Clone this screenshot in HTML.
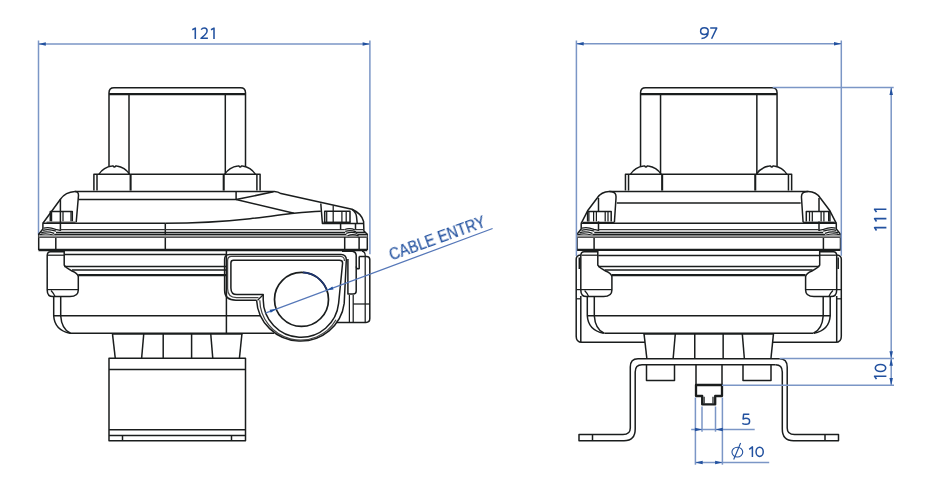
<!DOCTYPE html>
<html><head><meta charset="utf-8"><style>
html,body{margin:0;padding:0;background:#fff;}
svg{display:block;} text{will-change:transform;}
</style></head><body>
<svg width="937" height="500" viewBox="0 0 937 500" stroke-linecap="butt" stroke-linejoin="round">
<rect x="0" y="0" width="937" height="500" fill="#fff"/>
<line x1="38.5" y1="40.5" x2="38.5" y2="234.4" stroke="#7b96c6" stroke-width="1.5"/>
<line x1="369.9" y1="40.5" x2="369.9" y2="254.3" stroke="#7b96c6" stroke-width="1.5"/>
<line x1="38.5" y1="44" x2="369.9" y2="44" stroke="#7b96c6" stroke-width="1.5"/>
<path d="M38.5,44 L45.8,42.25 L45.8,45.75 Z" fill="#22519f" stroke="none"/>
<path d="M369.9,44 L362.6,45.75 L362.6,42.25 Z" fill="#22519f" stroke="none"/>
<path d="M192.3,29.7 L195.3,28.1 V39" stroke="#22519f" stroke-width="1.55" fill="none" stroke-linecap="butt" stroke-linejoin="round"/>
<path d="M201.2,29.6 Q202.3,28.1 204.2,28.1 Q207.1,28.1 207.1,30.9 Q207.1,32.8 204.5,35.3 L201,38.3 H207.9" stroke="#22519f" stroke-width="1.5" fill="none" stroke-linecap="butt" stroke-linejoin="round"/>
<path d="M211,29.7 L214,28.1 V39" stroke="#22519f" stroke-width="1.55" fill="none" stroke-linecap="butt" stroke-linejoin="round"/>
<path d="M109,166.6 V92.7 Q109,87.7 114,87.7 H240.5 Q245.5,87.7 245.5,92.7 V166.6" stroke="#1a1d1d" stroke-width="1.5" fill="none"/>
<line x1="109" y1="94.1" x2="245.5" y2="94.1" stroke="#1a1d1d" stroke-width="2.3"/>
<line x1="129" y1="94" x2="129" y2="174.2" stroke="#1a1d1d" stroke-width="1.5"/>
<line x1="225.3" y1="94" x2="225.3" y2="174.2" stroke="#1a1d1d" stroke-width="1.5"/>
<path d="M99,174.2 A18.4,18.4 0 0 1 112,166.1 L113.1,165.9 Q114.4,168.2 115.7,165.9 L116.8,166.1 A18.4,18.4 0 0 1 129.5,174.2" stroke="#1a1d1d" stroke-width="1.5" fill="none"/>
<path d="M224.8,174.2 A18.4,18.4 0 0 1 237.8,166.1 L238.9,165.9 Q240.2,168.2 241.5,165.9 L242.6,166.1 A18.4,18.4 0 0 1 255.3,174.2" stroke="#1a1d1d" stroke-width="1.5" fill="none"/>
<path d="M93.9,190.6 V174.2 H260.1 V190.6" stroke="#1a1d1d" stroke-width="1.5" fill="none"/>
<line x1="97" y1="174.2" x2="97" y2="190.6" stroke="#1a1d1d" stroke-width="1.5"/>
<line x1="256.9" y1="174.2" x2="256.9" y2="190.6" stroke="#1a1d1d" stroke-width="1.5"/>
<line x1="130.6" y1="174.2" x2="130.6" y2="190.6" stroke="#1a1d1d" stroke-width="2.07"/>
<line x1="223.7" y1="174.2" x2="223.7" y2="190.6" stroke="#1a1d1d" stroke-width="2.07"/>
<line x1="112.4" y1="333.2" x2="115.3" y2="358.5" stroke="#1a1d1d" stroke-width="1.5"/>
<line x1="143.8" y1="333.2" x2="141.6" y2="358.5" stroke="#1a1d1d" stroke-width="1.5"/>
<line x1="163.2" y1="333.2" x2="163.2" y2="358.5" stroke="#1a1d1d" stroke-width="1.5"/>
<line x1="191.6" y1="333.2" x2="191.6" y2="358.5" stroke="#1a1d1d" stroke-width="1.5"/>
<line x1="210.7" y1="333.2" x2="212.8" y2="358.5" stroke="#1a1d1d" stroke-width="1.5"/>
<line x1="242" y1="333.2" x2="239.4" y2="358.5" stroke="#1a1d1d" stroke-width="1.5"/>
<path d="M42.9,223.3 L60.4,199.2 Q65.5,192.1 75,191.6 Q78.6,191.5 78.5,195.4 L76.2,222.3" stroke="#1a1d1d" stroke-width="1.49" fill="none"/>
<path d="M50.3,221.3 V211.5 H72.3 V221.3" stroke="#1a1d1d" stroke-width="1.5" fill="none"/>
<line x1="46.5" y1="222.2" x2="75.5" y2="222.2" stroke="#444" stroke-width="1.25"/>
<line x1="51.6" y1="211.5" x2="51.6" y2="221.3" stroke="#1a1d1d" stroke-width="1.25"/>
<line x1="63" y1="211.5" x2="63" y2="221.3" stroke="#1a1d1d" stroke-width="1.25"/>
<line x1="71" y1="211.5" x2="71" y2="221.3" stroke="#1a1d1d" stroke-width="1.25"/>
<line x1="60.4" y1="199.2" x2="60.4" y2="231" stroke="#1a1d1d" stroke-width="1.5"/>
<path d="M42.9,223.3 V229 L38.7,234.3 V250.1" stroke="#1a1d1d" stroke-width="1.5" fill="none"/>
<path d="M43.6,228.2 Q48.4,226.4 55.6,229.3 L60.2,230.3" stroke="#1a1d1d" stroke-width="1.25" fill="none"/>
<path d="M43.1,230.3 Q48.4,228.4 56,231.2" stroke="#1a1d1d" stroke-width="1.25" fill="none"/>
<path d="M41.2,232.9 Q46.5,230.8 54.2,233.4" stroke="#1a1d1d" stroke-width="1.25" fill="none"/>
<path d="M39.3,234.8 Q46,232.6 54.2,235.3" stroke="#1a1d1d" stroke-width="1.25" fill="none"/>
<line x1="55.8" y1="235.3" x2="55.8" y2="250.1" stroke="#1a1d1d" stroke-width="1.5"/>
<path d="M64.2,250.1 V265.2 Q66,268 72,271 Q77.5,273.3 78.3,276.5 V290.1 Q78.3,296.6 70,296.6 H53 Q47.2,296.6 47.2,290 V256 Q47.2,251.8 50.5,251.8 H64.2" stroke="#1a1d1d" stroke-width="1.5" fill="none"/>
<line x1="48" y1="255.2" x2="64.2" y2="255.2" stroke="#1a1d1d" stroke-width="1.25"/>
<line x1="47.2" y1="289.6" x2="78.3" y2="289.6" stroke="#1a1d1d" stroke-width="1.25"/>
<path d="M51,290.5 Q53.5,293 55,296.6" stroke="#1a1d1d" stroke-width="1.25" fill="none"/>
<path d="M53.7,296.6 V315.7 Q54.5,330 70,333.3" stroke="#1a1d1d" stroke-width="1.5" fill="none"/>
<path d="M60.7,296.6 V315.7 Q61.5,329 70.5,333.3" stroke="#1a1d1d" stroke-width="1.5" fill="none"/>
<path d="M75,191.6 H274.4 Q278,191.8 281,193.6 L352,209.3 Q361.5,213.5 363.6,221.5 L363.9,231 L367.3,234.3 V250" stroke="#1a1d1d" stroke-width="1.5" fill="none"/>
<line x1="78.5" y1="199.6" x2="236.1" y2="199.6" stroke="#1a1d1d" stroke-width="1.5"/>
<line x1="236.1" y1="191.6" x2="236.1" y2="199.6" stroke="#1a1d1d" stroke-width="1.5"/>
<line x1="236.1" y1="199.6" x2="273.5" y2="191.8" stroke="#1a1d1d" stroke-width="1.5"/>
<line x1="236.1" y1="199.6" x2="294" y2="213.2" stroke="#1a1d1d" stroke-width="1.5"/>
<path d="M165.3,223.3 C200,223.3 230,221 250,218.8 S285,214 294,213.2 Q310,211.6 320.8,211.3" stroke="#1a1d1d" stroke-width="1.5" fill="none"/>
<line x1="42.6" y1="223.3" x2="165.3" y2="223.3" stroke="#1a1d1d" stroke-width="1.5"/>
<path d="M320.8,203.5 L322.4,223.4 H363.6" stroke="#1a1d1d" stroke-width="1.49" fill="none"/>
<path d="M352,209.3 Q356.3,212.5 356.5,216.5 L357.2,223.4" stroke="#1a1d1d" stroke-width="1.5" fill="none"/>
<path d="M324.7,222.3 V211.3 H350 V222.3" stroke="#1a1d1d" stroke-width="1.5" fill="none"/>
<line x1="323.4" y1="222.3" x2="350.7" y2="222.3" stroke="#1a1d1d" stroke-width="1.5"/>
<line x1="326.7" y1="211.3" x2="326.7" y2="222.3" stroke="#1a1d1d" stroke-width="1.25"/>
<line x1="341.9" y1="211.3" x2="341.9" y2="222.3" stroke="#1a1d1d" stroke-width="1.25"/>
<line x1="346.2" y1="211.3" x2="346.2" y2="222.3" stroke="#1a1d1d" stroke-width="1.25"/>
<line x1="333.2" y1="205.6" x2="333.2" y2="222.3" stroke="#1a1d1d" stroke-width="1.25"/>
<line x1="165.3" y1="223.3" x2="165.3" y2="250" stroke="#1a1d1d" stroke-width="1.5"/>
<line x1="60.2" y1="229.6" x2="344.7" y2="229.6" stroke="#333" stroke-width="1.25"/>
<line x1="355.3" y1="229.6" x2="363.9" y2="229.6" stroke="#333" stroke-width="1.25"/>
<line x1="56" y1="232.4" x2="345.2" y2="232.4" stroke="#1a1d1d" stroke-width="1.5"/>
<line x1="356" y1="232.4" x2="365.2" y2="232.4" stroke="#1a1d1d" stroke-width="1.5"/>
<line x1="54.2" y1="234.5" x2="346.4" y2="234.5" stroke="#1a1d1d" stroke-width="1.5"/>
<line x1="357.3" y1="234.5" x2="367.3" y2="234.5" stroke="#1a1d1d" stroke-width="1.5"/>
<rect x="38.7" y="235.1" width="328.6" height="2.6" fill="#a0a0a0"/>
<line x1="38.7" y1="237.3" x2="367.3" y2="237.3" stroke="#555" stroke-width="1.25"/>
<line x1="38.5" y1="250" x2="367.3" y2="250" stroke="#1a1d1d" stroke-width="2.3"/>
<path d="M340.6,223.4 V229.6 M355.5,223.4 V229.6" stroke="#1a1d1d" stroke-width="1.5" fill="none"/>
<path d="M344.7,237 V250 M359.1,237 V250" stroke="#1a1d1d" stroke-width="1.5" fill="none"/>
<path d="M344.7,229.5 Q350,227.7 355.3,230" stroke="#1a1d1d" stroke-width="1.25" fill="none"/>
<path d="M345.2,231.4 Q350.5,229.6 356,231.8" stroke="#1a1d1d" stroke-width="1.25" fill="none"/>
<path d="M346.2,233.3 Q351.2,231.3 357.3,233.4" stroke="#1a1d1d" stroke-width="1.25" fill="none"/>
<path d="M347.6,235.8 Q352.4,233.6 358.6,235.8" stroke="#1a1d1d" stroke-width="1.25" fill="none"/>
<line x1="64.2" y1="254.6" x2="226.2" y2="254.6" stroke="#1a1d1d" stroke-width="1.5"/>
<line x1="64.2" y1="266.4" x2="226.2" y2="266.4" stroke="#1a1d1d" stroke-width="1.5"/>
<line x1="72" y1="269.9" x2="226.2" y2="269.9" stroke="#1a1d1d" stroke-width="1.5"/>
<line x1="78.2" y1="275.2" x2="226.2" y2="275.2" stroke="#1a1d1d" stroke-width="2.18"/>
<line x1="53.7" y1="315.7" x2="260" y2="315.7" stroke="#1a1d1d" stroke-width="1.5"/>
<line x1="70" y1="333.3" x2="274" y2="333.3" stroke="#1a1d1d" stroke-width="1.5"/>
<line x1="112.2" y1="333.8" x2="242.3" y2="333.8" stroke="#1a1d1d" stroke-width="1.84"/>
<line x1="226.4" y1="250" x2="226.4" y2="333.3" stroke="#1a1d1d" stroke-width="1.5"/>
<path d="M256.6,300.2 H236 Q224.6,300.2 224.6,290 V259.5 Q224.6,254.6 229.5,254.6 H341 Q346.5,254.6 346.3,260 L344.2,303.4 A44,43 0 0 1 256.6,300.2" stroke="#1a1d1d" stroke-width="1.5" fill="none"/>
<path d="M263.2,299.5 V294.6 H237 Q230.9,294.6 230.9,288 V263 Q230.9,260.3 233.5,260.3 H339.5 Q342.6,260.3 342.6,263 L338.6,303.4 A37.8,37.8 0 0 1 263.2,299.5" stroke="#1a1d1d" stroke-width="1.5" fill="none"/>
<line x1="257.6" y1="300.2" x2="263.2" y2="294.8" stroke="#1a1d1d" stroke-width="1.25"/>
<path d="M258.5,297.6 H236.5 Q227.6,297.6 227.6,288.5 V260.5 Q227.6,256.3 231.5,256.3 H340.5 Q344.6,256.4 344.4,261" stroke="#444" stroke-width="1.25" fill="none"/>
<path d="M259.8,300.3 A40.8,40.5 0 0 0 336,319.8" stroke="#444" stroke-width="1.25" fill="none"/>
<circle cx="301.5" cy="299.4" r="27" stroke="#1a1d1d" stroke-width="1.7" fill="none"/>
<path d="M303,272.45 A27,27 0 0 1 326.5,289.2" stroke="#1d3570" stroke-width="1.7" fill="none"/>
<path d="M347.9,259 V294 H353.2 Q356.2,294 356.2,291 V255 Q355.8,251.6 352.4,251.2 H342" stroke="#1a1d1d" stroke-width="1.5" fill="none"/>
<path d="M356.2,266.5 Q356.5,269.6 359.2,268.6 V256.4" stroke="#1a1d1d" stroke-width="1.5" fill="none"/>
<path d="M362,251.2 Q365.2,251.8 365.2,255.5 V322.4" stroke="#1a1d1d" stroke-width="1.25" fill="none"/>
<path d="M359.2,256.4 H366.5 Q369.8,256.4 369.8,259.5 V318.5 Q369.8,322.4 366,322.4 H336.5" stroke="#1a1d1d" stroke-width="1.5" fill="none"/>
<line x1="353.2" y1="304" x2="369.8" y2="304" stroke="#1a1d1d" stroke-width="1.25"/>
<line x1="353.2" y1="295" x2="353.2" y2="322.4" stroke="#1a1d1d" stroke-width="1.25"/>
<line x1="349.4" y1="295" x2="349.4" y2="322.4" stroke="#1a1d1d" stroke-width="1.25"/>
<path d="M109,358.3 H245.5 V440.7 H109 Z" stroke="#1a1d1d" stroke-width="1.5" fill="none"/>
<line x1="109" y1="369.5" x2="245.5" y2="369.5" stroke="#1a1d1d" stroke-width="1.5"/>
<line x1="109" y1="429.8" x2="245.5" y2="429.8" stroke="#1a1d1d" stroke-width="1.5"/>
<line x1="109" y1="435.6" x2="245.5" y2="435.6" stroke="#1a1d1d" stroke-width="1.5"/>
<line x1="122.5" y1="435.6" x2="122.5" y2="440.7" stroke="#1a1d1d" stroke-width="1.5"/>
<line x1="231.5" y1="435.6" x2="231.5" y2="440.7" stroke="#1a1d1d" stroke-width="1.5"/>
<line x1="265.4" y1="313.1" x2="492.6" y2="228.5" stroke="#5577b8" stroke-width="1.25"/>
<path d="M276.25,309.05 L270.71,312.81 L269.6,309.81 Z" fill="#22519f" stroke="none"/>
<path d="M326.85,290.25 L332.39,286.49 L333.5,289.49 Z" fill="#22519f" stroke="none"/>
<text x="0" y="0" transform="translate(391.6,260.6) rotate(-19.8)" textLength="101" stroke="#22519f" stroke-width="0.2" lengthAdjust="spacingAndGlyphs" font-family="Liberation Sans" font-size="17.2" fill="#22519f">CABLE ENTRY</text>
<path d="M581.2,223.3 L587.6,210.8 L597.2,198 Q601.3,191.9 609.2,191.6 Q614.5,191.4 615.7,194.6 Q616.2,196.6 616,198 L614.4,222.3" stroke="#1a1d1d" stroke-width="1.49" fill="none"/>
<path d="M587.6,221.4 V211.4 H611.2 V221.4" stroke="#1a1d1d" stroke-width="1.5" fill="none"/>
<line x1="582.8" y1="222.4" x2="614.4" y2="222.4" stroke="#1a1d1d" stroke-width="1.5"/>
<line x1="588.9" y1="211.4" x2="588.9" y2="221.4" stroke="#1a1d1d" stroke-width="1.25"/>
<line x1="593.6" y1="211.4" x2="593.6" y2="221.4" stroke="#1a1d1d" stroke-width="1.25"/>
<line x1="596.4" y1="211.4" x2="596.4" y2="221.4" stroke="#1a1d1d" stroke-width="1.25"/>
<line x1="605.2" y1="211.4" x2="605.2" y2="221.4" stroke="#1a1d1d" stroke-width="1.25"/>
<line x1="608" y1="211.4" x2="608" y2="221.4" stroke="#1a1d1d" stroke-width="1.25"/>
<line x1="598.5" y1="198" x2="598.5" y2="211.4" stroke="#1a1d1d" stroke-width="1.5"/>
<line x1="598.5" y1="221.4" x2="598.5" y2="231" stroke="#1a1d1d" stroke-width="1.5"/>
<path d="M581.2,223.3 V229 L577,234.3 V250.1" stroke="#1a1d1d" stroke-width="1.5" fill="none"/>
<path d="M581.9,228.2 Q586.7,226.4 593.9,229.3 L598.5,230.3" stroke="#1a1d1d" stroke-width="1.25" fill="none"/>
<path d="M581.4,230.3 Q586.7,228.4 594.3,231.2" stroke="#1a1d1d" stroke-width="1.25" fill="none"/>
<path d="M579.5,232.9 Q584.8,230.8 592.5,233.4" stroke="#1a1d1d" stroke-width="1.25" fill="none"/>
<path d="M577.6,234.8 Q584.3,232.6 592.5,235.3" stroke="#1a1d1d" stroke-width="1.25" fill="none"/>
<line x1="594.1" y1="235.3" x2="594.1" y2="250.1" stroke="#1a1d1d" stroke-width="1.5"/>
<path d="M597.8,250.1 V265.2 Q599.6,268 605.6,271 Q611.1,273.3 611.9,276.5 V290.1 Q611.9,296.6 603.6,296.6 H586.6 Q580.8,296.6 580.8,290 V256 Q580.8,251.8 584.1,251.8 H597.8" stroke="#1a1d1d" stroke-width="1.5" fill="none"/>
<line x1="581.6" y1="255.2" x2="597.8" y2="255.2" stroke="#1a1d1d" stroke-width="1.25"/>
<line x1="580.8" y1="289.6" x2="611.9" y2="289.6" stroke="#1a1d1d" stroke-width="1.25"/>
<path d="M584.6,290.5 Q587.1,293 588.6,296.6" stroke="#1a1d1d" stroke-width="1.25" fill="none"/>
<path d="M587.3,296.6 V315.7 Q588.1,330 603.6,333.3" stroke="#1a1d1d" stroke-width="1.5" fill="none"/>
<path d="M594.3,296.6 V315.7 Q595.1,329 604.1,333.3" stroke="#1a1d1d" stroke-width="1.5" fill="none"/>
<path d="M576.2,300 V336.5 Q576.2,342.3 582,342.3 H645" stroke="#1a1d1d" stroke-width="1.5" fill="none"/>
<path d="M576.2,300 V259 Q576.2,255.5 580.8,255" stroke="#1a1d1d" stroke-width="1.5" fill="none"/>
<line x1="580.8" y1="296" x2="580.8" y2="342.3" stroke="#1a1d1d" stroke-width="1.5"/>
<line x1="576.2" y1="289.6" x2="580.8" y2="289.6" stroke="#1a1d1d" stroke-width="1.25"/>
<line x1="579.3" y1="257.5" x2="579.3" y2="269" stroke="#1a1d1d" stroke-width="1.5"/>
<line x1="576.2" y1="298.8" x2="580.8" y2="298.8" stroke="#1a1d1d" stroke-width="1.25"/>
<path d="M638,358.8 Q630.3,358.8 630.3,367 V428 Q630.3,434.5 623,434.5 H579 V440.7 H624 Q635.2,440.7 635.2,429 V372 Q635.2,364.8 642,364.8" stroke="#1a1d1d" stroke-width="1.5" fill="none"/>
<line x1="592.5" y1="434.5" x2="592.5" y2="440.7" stroke="#1a1d1d" stroke-width="1.5"/>
<path d="M646.5,364.8 V380.6 H674.5 V364.8" stroke="#1a1d1d" stroke-width="1.5" fill="none"/>
<g transform="translate(1417.5,0) scale(-1,1)"><path d="M581.2,223.3 L587.6,210.8 L597.2,198 Q601.3,191.9 609.2,191.6 Q614.5,191.4 615.7,194.6 Q616.2,196.6 616,198 L614.4,222.3" stroke="#1a1d1d" stroke-width="1.49" fill="none"/><path d="M587.6,221.4 V211.4 H611.2 V221.4" stroke="#1a1d1d" stroke-width="1.5" fill="none"/><line x1="582.8" y1="222.4" x2="614.4" y2="222.4" stroke="#1a1d1d" stroke-width="1.5"/><line x1="588.9" y1="211.4" x2="588.9" y2="221.4" stroke="#1a1d1d" stroke-width="1.25"/><line x1="593.6" y1="211.4" x2="593.6" y2="221.4" stroke="#1a1d1d" stroke-width="1.25"/><line x1="596.4" y1="211.4" x2="596.4" y2="221.4" stroke="#1a1d1d" stroke-width="1.25"/><line x1="605.2" y1="211.4" x2="605.2" y2="221.4" stroke="#1a1d1d" stroke-width="1.25"/><line x1="608" y1="211.4" x2="608" y2="221.4" stroke="#1a1d1d" stroke-width="1.25"/><line x1="598.5" y1="198" x2="598.5" y2="211.4" stroke="#1a1d1d" stroke-width="1.5"/><line x1="598.5" y1="221.4" x2="598.5" y2="231" stroke="#1a1d1d" stroke-width="1.5"/><path d="M581.2,223.3 V229 L577,234.3 V250.1" stroke="#1a1d1d" stroke-width="1.5" fill="none"/><path d="M581.9,228.2 Q586.7,226.4 593.9,229.3 L598.5,230.3" stroke="#1a1d1d" stroke-width="1.25" fill="none"/><path d="M581.4,230.3 Q586.7,228.4 594.3,231.2" stroke="#1a1d1d" stroke-width="1.25" fill="none"/><path d="M579.5,232.9 Q584.8,230.8 592.5,233.4" stroke="#1a1d1d" stroke-width="1.25" fill="none"/><path d="M577.6,234.8 Q584.3,232.6 592.5,235.3" stroke="#1a1d1d" stroke-width="1.25" fill="none"/><line x1="594.1" y1="235.3" x2="594.1" y2="250.1" stroke="#1a1d1d" stroke-width="1.5"/><path d="M597.8,250.1 V265.2 Q599.6,268 605.6,271 Q611.1,273.3 611.9,276.5 V290.1 Q611.9,296.6 603.6,296.6 H586.6 Q580.8,296.6 580.8,290 V256 Q580.8,251.8 584.1,251.8 H597.8" stroke="#1a1d1d" stroke-width="1.5" fill="none"/><line x1="581.6" y1="255.2" x2="597.8" y2="255.2" stroke="#1a1d1d" stroke-width="1.25"/><line x1="580.8" y1="289.6" x2="611.9" y2="289.6" stroke="#1a1d1d" stroke-width="1.25"/><path d="M584.6,290.5 Q587.1,293 588.6,296.6" stroke="#1a1d1d" stroke-width="1.25" fill="none"/><path d="M587.3,296.6 V315.7 Q588.1,330 603.6,333.3" stroke="#1a1d1d" stroke-width="1.5" fill="none"/><path d="M594.3,296.6 V315.7 Q595.1,329 604.1,333.3" stroke="#1a1d1d" stroke-width="1.5" fill="none"/><path d="M576.2,300 V336.5 Q576.2,342.3 582,342.3 H645" stroke="#1a1d1d" stroke-width="1.5" fill="none"/><path d="M576.2,300 V259 Q576.2,255.5 580.8,255" stroke="#1a1d1d" stroke-width="1.5" fill="none"/><line x1="580.8" y1="296" x2="580.8" y2="342.3" stroke="#1a1d1d" stroke-width="1.5"/><line x1="576.2" y1="289.6" x2="580.8" y2="289.6" stroke="#1a1d1d" stroke-width="1.25"/><line x1="579.3" y1="257.5" x2="579.3" y2="269" stroke="#1a1d1d" stroke-width="1.5"/><line x1="576.2" y1="298.8" x2="580.8" y2="298.8" stroke="#1a1d1d" stroke-width="1.25"/><path d="M638,358.8 Q630.3,358.8 630.3,367 V428 Q630.3,434.5 623,434.5 H579 V440.7 H624 Q635.2,440.7 635.2,429 V372 Q635.2,364.8 642,364.8" stroke="#1a1d1d" stroke-width="1.5" fill="none"/><line x1="592.5" y1="434.5" x2="592.5" y2="440.7" stroke="#1a1d1d" stroke-width="1.5"/><path d="M646.5,364.8 V380.6 H674.5 V364.8" stroke="#1a1d1d" stroke-width="1.5" fill="none"/></g>
<rect x="577" y="235.1" width="263.5" height="2.6" fill="#a0a0a0"/>
<line x1="609.3" y1="191.6" x2="808.2" y2="191.6" stroke="#1a1d1d" stroke-width="1.5"/>
<line x1="616.8" y1="203" x2="800.7" y2="203" stroke="#1a1d1d" stroke-width="1.5"/>
<line x1="580.9" y1="223.2" x2="836.6" y2="223.2" stroke="#1a1d1d" stroke-width="1.5"/>
<line x1="598.5" y1="229.6" x2="819" y2="229.6" stroke="#333" stroke-width="1.25"/>
<line x1="594.3" y1="232.4" x2="823.2" y2="232.4" stroke="#1a1d1d" stroke-width="1.5"/>
<line x1="592.5" y1="234.5" x2="825" y2="234.5" stroke="#1a1d1d" stroke-width="1.5"/>
<line x1="577" y1="237.3" x2="840.5" y2="237.3" stroke="#555" stroke-width="1.25"/>
<line x1="576.8" y1="249.9" x2="840.7" y2="249.9" stroke="#1a1d1d" stroke-width="2.3"/>
<line x1="598.2" y1="255.4" x2="819.3" y2="255.4" stroke="#1a1d1d" stroke-width="1.5"/>
<line x1="598.2" y1="266.4" x2="819.3" y2="266.4" stroke="#1a1d1d" stroke-width="1.5"/>
<line x1="605" y1="269.9" x2="812.5" y2="269.9" stroke="#1a1d1d" stroke-width="1.5"/>
<line x1="612" y1="275.2" x2="805.5" y2="275.2" stroke="#1a1d1d" stroke-width="2.18"/>
<line x1="587.2" y1="315.8" x2="830.3" y2="315.8" stroke="#1a1d1d" stroke-width="1.5"/>
<line x1="604.3" y1="333.3" x2="813.2" y2="333.3" stroke="#1a1d1d" stroke-width="1.5"/>
<line x1="643.7" y1="333.8" x2="773.8" y2="333.8" stroke="#1a1d1d" stroke-width="1.84"/>
<line x1="638" y1="358.8" x2="779.5" y2="358.8" stroke="#1a1d1d" stroke-width="1.5"/>
<line x1="642" y1="364.8" x2="775.5" y2="364.8" stroke="#1a1d1d" stroke-width="1.5"/>
<path d="M640.55,166.6 V92.7 Q640.55,87.7 645.55,87.7 H772.05 Q777.05,87.7 777.05,92.7 V166.6" stroke="#1a1d1d" stroke-width="1.5" fill="none"/>
<line x1="640.55" y1="94.1" x2="777.05" y2="94.1" stroke="#1a1d1d" stroke-width="2.3"/>
<line x1="660.55" y1="94" x2="660.55" y2="174.2" stroke="#1a1d1d" stroke-width="1.5"/>
<line x1="756.85" y1="94" x2="756.85" y2="174.2" stroke="#1a1d1d" stroke-width="1.5"/>
<path d="M630.55,174.2 A18.4,18.4 0 0 1 643.55,166.1 L644.65,165.9 Q645.95,168.2 647.25,165.9 L648.35,166.1 A18.4,18.4 0 0 1 661.05,174.2" stroke="#1a1d1d" stroke-width="1.5" fill="none"/>
<path d="M756.35,174.2 A18.4,18.4 0 0 1 769.35,166.1 L770.45,165.9 Q771.75,168.2 773.05,165.9 L774.15,166.1 A18.4,18.4 0 0 1 786.85,174.2" stroke="#1a1d1d" stroke-width="1.5" fill="none"/>
<path d="M625.45,190.6 V174.2 H791.65 V190.6" stroke="#1a1d1d" stroke-width="1.5" fill="none"/>
<line x1="628.55" y1="174.2" x2="628.55" y2="190.6" stroke="#1a1d1d" stroke-width="1.5"/>
<line x1="788.45" y1="174.2" x2="788.45" y2="190.6" stroke="#1a1d1d" stroke-width="1.5"/>
<line x1="662.15" y1="174.2" x2="662.15" y2="190.6" stroke="#1a1d1d" stroke-width="2.07"/>
<line x1="755.25" y1="174.2" x2="755.25" y2="190.6" stroke="#1a1d1d" stroke-width="2.07"/>
<line x1="643.95" y1="333.2" x2="646.85" y2="358.5" stroke="#1a1d1d" stroke-width="1.5"/>
<line x1="675.35" y1="333.2" x2="673.15" y2="358.5" stroke="#1a1d1d" stroke-width="1.5"/>
<line x1="694.75" y1="333.2" x2="694.75" y2="358.5" stroke="#1a1d1d" stroke-width="1.5"/>
<line x1="723.15" y1="333.2" x2="723.15" y2="358.5" stroke="#1a1d1d" stroke-width="1.5"/>
<line x1="742.25" y1="333.2" x2="744.35" y2="358.5" stroke="#1a1d1d" stroke-width="1.5"/>
<line x1="773.55" y1="333.2" x2="770.95" y2="358.5" stroke="#1a1d1d" stroke-width="1.5"/>
<path d="M696,364.8 V385.3 M722,364.8 V385.3" stroke="#1a1d1d" stroke-width="1.5" fill="none"/>
<path d="M696,385 H722 V396 H715.2 V404.4 H702.2 V396 H696 Z" stroke="#1a1d1d" stroke-width="2.3" fill="none"/>
<line x1="704.1" y1="396.8" x2="704.1" y2="403.6" stroke="#1a1d1d" stroke-width="1.25"/>
<line x1="713" y1="396.8" x2="713" y2="403.6" stroke="#1a1d1d" stroke-width="1.25"/>
<line x1="576.4" y1="40.5" x2="576.4" y2="256" stroke="#7b96c6" stroke-width="1.5"/>
<line x1="841.3" y1="40.5" x2="841.3" y2="255.8" stroke="#7b96c6" stroke-width="1.5"/>
<line x1="576.4" y1="43.8" x2="841.3" y2="43.8" stroke="#7b96c6" stroke-width="1.5"/>
<path d="M576.4,43.8 L583.7,42.05 L583.7,45.55 Z" fill="#22519f" stroke="none"/>
<path d="M841.3,43.8 L834,45.55 L834,42.05 Z" fill="#22519f" stroke="none"/>
<path d="M708.2,31.2 Q708.2,27.8 704.3,27.8 Q700.6,27.8 700.6,31.2 Q700.6,34.4 704.3,34.4 Q708.2,34.4 708.2,31.2 Q708.2,37.9 701.5,38.5" stroke="#22519f" stroke-width="1.5" fill="none" stroke-linecap="butt" stroke-linejoin="round"/>
<path d="M710.2,28.1 H716.7 L711.6,38.8" stroke="#22519f" stroke-width="1.5" fill="none" stroke-linecap="butt" stroke-linejoin="round"/>
<line x1="772.7" y1="87.6" x2="893.7" y2="87.6" stroke="#7b96c6" stroke-width="1.5"/>
<line x1="891.2" y1="87.6" x2="891.2" y2="385.3" stroke="#7b96c6" stroke-width="1.5"/>
<path d="M891.2,87.6 L892.95,94.9 L889.45,94.9 Z" fill="#22519f" stroke="none"/>
<path d="M891.2,358.5 L889.45,351.2 L892.95,351.2 Z" fill="#22519f" stroke="none"/>
<path d="M891.2,358.5 L892.95,365.8 L889.45,365.8 Z" fill="#22519f" stroke="none"/>
<path d="M891.2,385.3 L889.45,378 L892.95,378 Z" fill="#22519f" stroke="none"/>
<line x1="780" y1="358.5" x2="894" y2="358.5" stroke="#7b96c6" stroke-width="1.5"/>
<line x1="722" y1="385.3" x2="894" y2="385.3" stroke="#7b96c6" stroke-width="1.5"/>
<path d="M876.5,212.1 L874.6,209.2 H886.4" stroke="#22519f" stroke-width="1.6" fill="none" stroke-linecap="butt" stroke-linejoin="round"/>
<path d="M876.5,221.5 L874.6,218.6 H886.4" stroke="#22519f" stroke-width="1.6" fill="none" stroke-linecap="butt" stroke-linejoin="round"/>
<path d="M876.5,230.5 L874.6,227.6 H886.4" stroke="#22519f" stroke-width="1.6" fill="none" stroke-linecap="butt" stroke-linejoin="round"/>
<path d="M876.5,379.1 L874.6,376.2 H886.4" stroke="#22519f" stroke-width="1.6" fill="none" stroke-linecap="butt" stroke-linejoin="round"/>
<ellipse cx="880.5" cy="368" rx="5.2" ry="3.5" fill="none" stroke="#22519f" stroke-width="1.6"/>
<line x1="695.4" y1="397.5" x2="695.4" y2="464.7" stroke="#7b96c6" stroke-width="1.5"/>
<line x1="722.4" y1="397.5" x2="722.4" y2="464.7" stroke="#7b96c6" stroke-width="1.5"/>
<line x1="702" y1="406.5" x2="702" y2="431.7" stroke="#7b96c6" stroke-width="1.5"/>
<line x1="715.5" y1="406.5" x2="715.5" y2="431.7" stroke="#7b96c6" stroke-width="1.5"/>
<line x1="691.2" y1="429.4" x2="754.7" y2="429.4" stroke="#7b96c6" stroke-width="1.5"/>
<path d="M702.2,429.4 L694.9,431.15 L694.9,427.65 Z" fill="#22519f" stroke="none"/>
<path d="M715.5,429.4 L722.8,427.65 L722.8,431.15 Z" fill="#22519f" stroke="none"/>
<line x1="695.4" y1="462.5" x2="769.2" y2="462.5" stroke="#7b96c6" stroke-width="1.5"/>
<path d="M695.4,462.5 L702.7,460.75 L702.7,464.25 Z" fill="#22519f" stroke="none"/>
<path d="M722.4,462.5 L715.1,464.25 L715.1,460.75 Z" fill="#22519f" stroke="none"/>
<path d="M749.3,414.3 H743.6 L743.1,419 Q744.5,418.3 746,418.3 Q749.6,418.3 749.6,421.2 Q749.6,424.3 746,424.3 Q743.6,424.3 742.3,423.3" stroke="#22519f" stroke-width="1.5" fill="none" stroke-linecap="butt" stroke-linejoin="round"/>
<ellipse cx="737.35" cy="452.1" rx="5.4" ry="4.9" fill="none" stroke="#22519f" stroke-width="1.1"/>
<line x1="740.6" y1="443" x2="733.7" y2="459.5" stroke="#22519f" stroke-width="1.12"/>
<path d="M749.2,449.3 L752.4,446.9 V456.9" stroke="#22519f" stroke-width="1.5" fill="none" stroke-linecap="butt" stroke-linejoin="round"/>
<ellipse cx="759.65" cy="451.8" rx="3.6" ry="4.6" fill="none" stroke="#22519f" stroke-width="1.5"/>
</svg></body></html>
